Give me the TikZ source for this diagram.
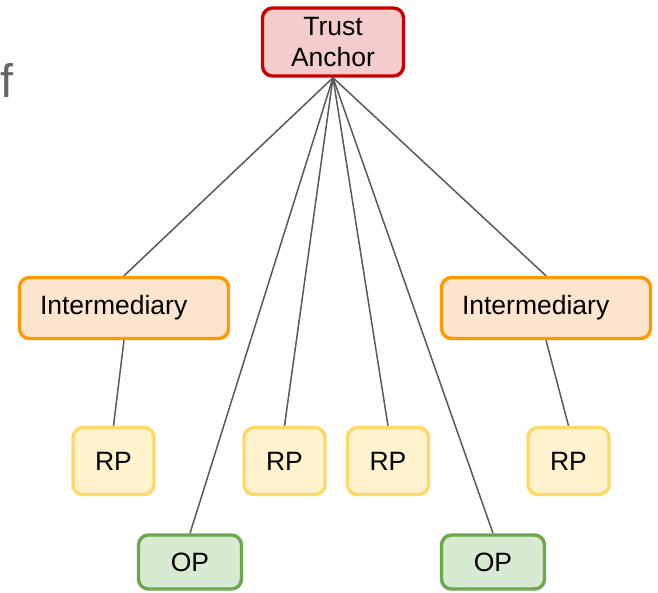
\documentclass[tikz,border=0pt]{standalone}
\usepackage{fontspec}
\setmainfont{Liberation Sans}
\begin{document}
\definecolor{anchorfill}{HTML}{F4CCCC}
\definecolor{anchordraw}{HTML}{CC0000}
\definecolor{interfill}{HTML}{FCE5CD}
\definecolor{interdraw}{HTML}{FF9900}
\definecolor{rpfill}{HTML}{FFF2CC}
\definecolor{rpdraw}{HTML}{FFD966}
\definecolor{opfill}{HTML}{D9EAD3}
\definecolor{opdraw}{HTML}{6AA84F}
\definecolor{linkgray}{HTML}{595959}
\definecolor{stubgray}{HTML}{666666}
\begin{tikzpicture}[x=1pt,y=-1pt,
  box/.style={rounded corners=10pt, line width=3.4pt, inner sep=0pt,
    font=\fontsize{26.5}{31}\selectfont, align=center},
  anchorbox/.style={box, fill=anchorfill, draw=anchordraw,
    minimum width=141pt, minimum height=68pt},
  interbox/.style={box, fill=interfill, draw=interdraw,
    text width=168pt, align=left, inner xsep=20.5pt, minimum height=61pt},
  rpbox/.style={box, fill=rpfill, draw=rpdraw,
    minimum width=81pt, minimum height=67pt},
  opbox/.style={box, fill=opfill, draw=opdraw,
    minimum width=103pt, minimum height=54pt},
  link/.style={draw=linkgray, line width=1.5pt}]
\useasboundingbox (0,0) rectangle (658,592);

% partial heading at the left edge
\node[anchor=base west, inner sep=0pt, text=stubgray,
  font=\fontsize{47}{50}\selectfont] (stub) at (0,97) {f};

% nodes
\node[anchorbox] (ta) at (333,42) {Trust\\Anchor};
\node[interbox] (intl) at (124,308) {Intermediary};
\node[interbox] (intr) at (546,308) {Intermediary};
\node[rpbox] (rp1) at (113.5,461) {RP};
\node[rpbox] (rp2) at (284.5,461) {RP};
\node[rpbox] (rp3) at (388,461) {RP};
\node[rpbox] (rp4) at (568.5,461) {RP};
\node[opbox] (op1) at (190,562) {OP};
\node[opbox] (op2) at (493,562) {OP};

% connectors
\foreach \t in {intl,intr,rp2,rp3,op1,op2}
  \path[link] (ta.south) -- (\t.north);
\path[link] (intl.south) -- (rp1.north);
\path[link] (intr.south) -- (rp4.north);
\end{tikzpicture}
\end{document}
